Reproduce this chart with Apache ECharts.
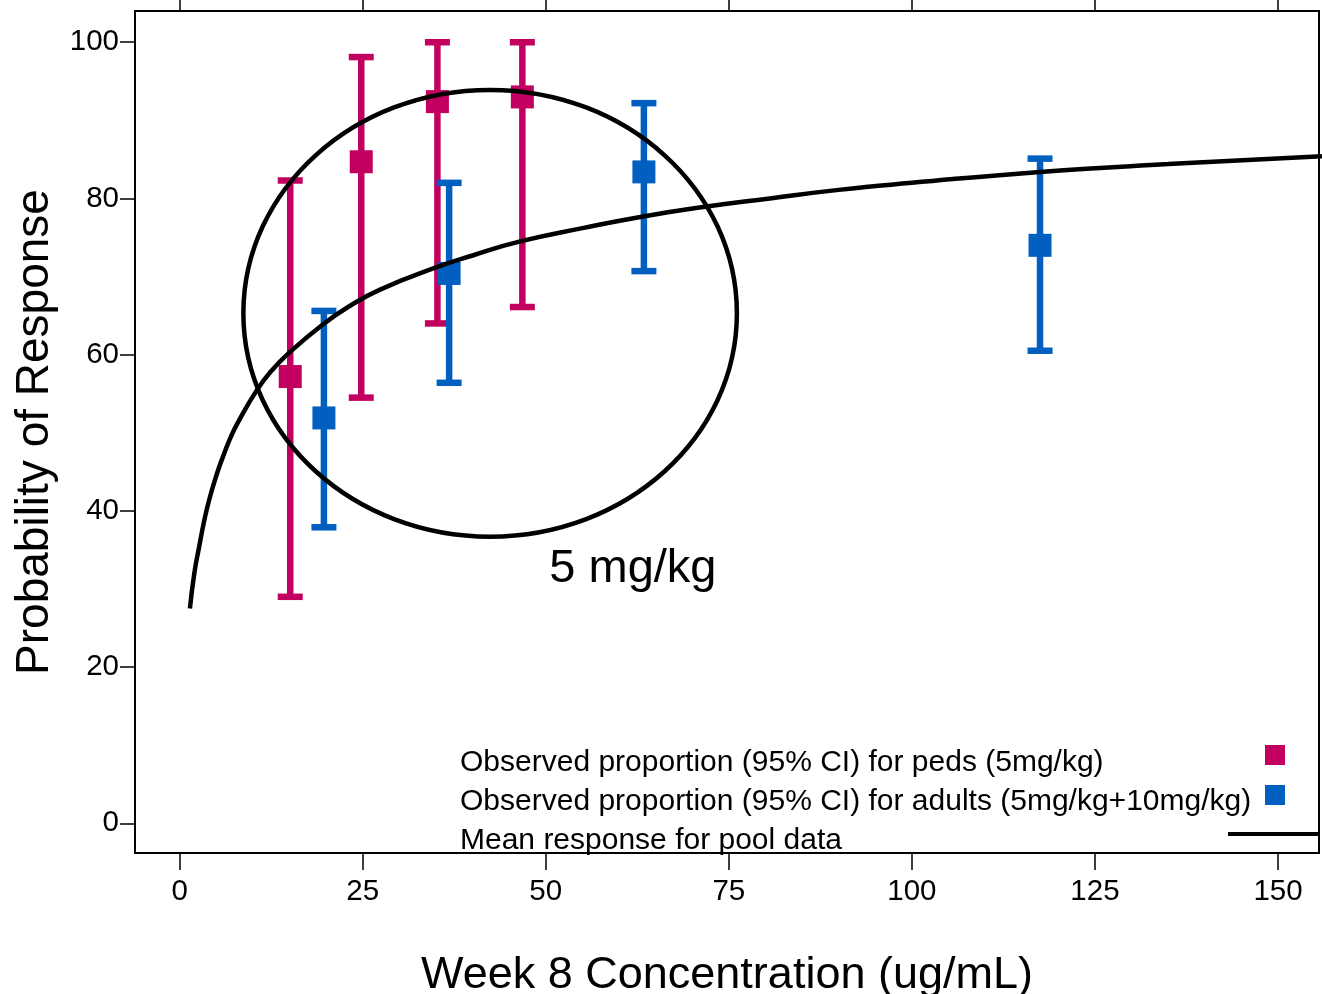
<!DOCTYPE html>
<html><head><meta charset="utf-8">
<script src="https://cdn.jsdelivr.net/npm/echarts@6/dist/echarts.min.js"></script>
<style>html,body{margin:0;padding:0;background:#fff}#c{width:1322px;height:994px}</style>
</head><body><div id="c"></div>
<script>
// ---- data ----
const xTicks = [0, 25, 50, 75, 100, 125, 150];
const yTicks = [0, 20, 40, 60, 80, 100];

const pedsConc  = [15.1, 24.8, 35.2, 46.8];
const pedsProp  = [57.2, 84.7, 92.4, 93.0];
const pedsLower = [29.0, 54.5, 64.0, 66.1];
const pedsUpper = [82.3, 98.1, 100, 100];

const adultConc  = [19.7, 36.8, 63.4, 117.5];
const adultProp  = [51.9, 70.4, 83.4, 74.0];
const adultLower = [37.9, 56.4, 70.7, 60.5];
const adultUpper = [65.6, 82.0, 92.2, 85.1];

const curveConc = [1.4, 2.0, 2.7, 3.3, 4, 5, 5.9, 7, 8, 10.5, 12.5, 15, 19.6, 23, 27.3, 35.1, 40, 46.5, 55, 63.3, 71.5, 80.6, 90, 100, 117.5, 135, 156];
const curveResp = [27.5, 32.0, 35.6, 38.5, 41.3, 44.5, 46.9, 49.5, 51.4, 55.4, 57.9, 60.3, 63.9, 66.1, 68.3, 71.2, 72.7, 74.5, 76.2, 77.7, 78.9, 80.0, 81.1, 82.0, 83.4, 84.4, 85.4];

const ellipseCenter = [42.4, 65.3];
const ellipseRadius = [33.7, 28.6];
const annotationPos = [61.9, 32.6];
const annotationText = '5 mg/kg';

const legendLabels = [
  'Observed proportion (95% CI) for peds (5mg/kg)',
  'Observed proportion (95% CI) for adults (5mg/kg+10mg/kg)',
  'Mean response for pool data'
];

// ---- style ----
const FONT = "'Liberation Sans', Arial, sans-serif";
const MAGENTA = '#C2005F', BLUE = '#005FBF';

function errorBars(name, xs, lo, hi, color) {
  return {
    type: 'custom', name: name + ' CI', z: 2,
    encode: {x: 0, y: [1, 2]},
    data: xs.map((x, i) => [x, lo[i], hi[i]]),
    renderItem(params, api) {
      const x = api.value(0);
      const a = api.coord([x, api.value(1)]);
      const b = api.coord([x, api.value(2)]);
      const h = 12.5;
      const st = {stroke: color, lineWidth: 6.5, fill: null};
      return {type: 'group', children: [
        {type: 'line', shape: {x1: a[0], y1: a[1], x2: b[0], y2: b[1]}, style: st},
        {type: 'line', shape: {x1: a[0] - h, y1: a[1], x2: a[0] + h, y2: a[1]}, style: st},
        {type: 'line', shape: {x1: b[0] - h, y1: b[1], x2: b[0] + h, y2: b[1]}, style: st}
      ]};
    }
  };
}

const chart = echarts.init(document.getElementById('c'));
const xMin = -6.1, xMax = 155.6, yMin = -3.8, yMax = 104;

const legendMid = [763, 802, 841];

chart.setOption({
  animation: false,
  backgroundColor: '#fff',
  textStyle: {fontFamily: FONT},
  grid: {left: 135, top: 11, right: 3, bottom: 141, show: true, borderColor: '#000', borderWidth: 2,
         backgroundColor: 'transparent', containLabel: false, outerBoundsMode: 'none'},
  xAxis: [{
    type: 'value', min: xMin, max: xMax, position: 'bottom',
    axisLine: {show: true, onZero: false, lineStyle: {color: '#000', width: 2}},
    axisTick: {show: true, length: 17, customValues: xTicks, lineStyle: {color: '#000', width: 1.5}},
    axisLabel: {customValues: xTicks, fontSize: 29.5, color: '#000', margin: 24, fontFamily: FONT},
    splitLine: {show: false},
    name: 'Week 8 Concentration (ug/mL)', nameLocation: 'middle', nameGap: 100,
    nameTextStyle: {fontSize: 45, color: '#000', fontFamily: FONT}
  }, {
    type: 'value', min: xMin, max: xMax, position: 'top',
    axisLine: {show: true, onZero: false, lineStyle: {color: '#000', width: 2}},
    axisTick: {show: true, length: 11, customValues: xTicks, lineStyle: {color: '#000', width: 1.5}},
    axisLabel: {show: false},
    splitLine: {show: false}
  }],
  yAxis: {
    type: 'value', min: yMin, max: yMax,
    axisLine: {show: true, onZero: false, lineStyle: {color: '#000', width: 2}},
    axisTick: {show: true, length: 15, customValues: yTicks, lineStyle: {color: '#000', width: 1.5}},
    axisLabel: {customValues: yTicks, fontSize: 29.5, color: '#000', margin: 16, fontFamily: FONT, padding: [4, 0, 0, 0]},
    splitLine: {show: false},
    name: 'Probability of Response', nameLocation: 'middle', nameGap: 77,
    nameTextStyle: {fontSize: 46, color: '#000', fontFamily: FONT}
  },
  series: [
    errorBars('peds', pedsConc, pedsLower, pedsUpper, MAGENTA),
    errorBars('adults', adultConc, adultLower, adultUpper, BLUE),
    {type: 'scatter', name: 'peds', z: 3, symbol: 'rect', symbolSize: 23,
     itemStyle: {color: MAGENTA, opacity: 1},
     data: pedsConc.map((x, i) => [x, pedsProp[i]])},
    {type: 'scatter', name: 'adults', z: 3, symbol: 'rect', symbolSize: 23,
     itemStyle: {color: BLUE, opacity: 1},
     data: adultConc.map((x, i) => [x, adultProp[i]])},
    {type: 'line', name: 'mean', z: 4, showSymbol: false, smooth: 0.5,
     lineStyle: {color: '#000', width: 4.5}, clip: true,
     data: curveConc.map((x, i) => [x, curveResp[i]])},
    {type: 'custom', name: 'ellipse', z: 4,
     data: [[ellipseCenter[0], ellipseCenter[1], ellipseRadius[0], ellipseRadius[1]]],
     renderItem(params, api) {
       const c = api.coord([api.value(0), api.value(1)]);
       const s = api.size([api.value(2), api.value(3)]);
       return {type: 'ellipse', shape: {cx: c[0], cy: c[1], rx: s[0], ry: s[1]},
               style: {fill: null, stroke: '#000', lineWidth: 4.5}};
     }},
    {type: 'custom', name: 'annotation', z: 5,
     data: [[annotationPos[0], annotationPos[1]]],
     renderItem(params, api) {
       const c = api.coord([api.value(0), api.value(1)]);
       return {type: 'text', x: c[0], y: c[1],
               style: {text: annotationText, fontSize: 47, fontFamily: FONT, fill: '#000', align: 'center', verticalAlign: 'middle'}};
     }}
  ],
  graphic: [
    {type: 'text', x: 460, y: legendMid[0], style: {text: legendLabels[0], fontSize: 30, fontFamily: FONT, fill: '#000', verticalAlign: 'middle'}},
    {type: 'text', x: 460, y: legendMid[1], style: {text: legendLabels[1], fontSize: 30, fontFamily: FONT, fill: '#000', verticalAlign: 'middle'}},
    {type: 'text', x: 460, y: legendMid[2], style: {text: legendLabels[2], fontSize: 30, fontFamily: FONT, fill: '#000', verticalAlign: 'middle'}},
    {type: 'rect', shape: {x: 1265, y: 745, width: 20, height: 20}, style: {fill: MAGENTA}},
    {type: 'rect', shape: {x: 1265, y: 785, width: 20, height: 20}, style: {fill: BLUE}},
    {type: 'line', shape: {x1: 1228, y1: 834, x2: 1319, y2: 834}, style: {stroke: '#000', lineWidth: 4}}
  ]
});
</script>
</body></html>
